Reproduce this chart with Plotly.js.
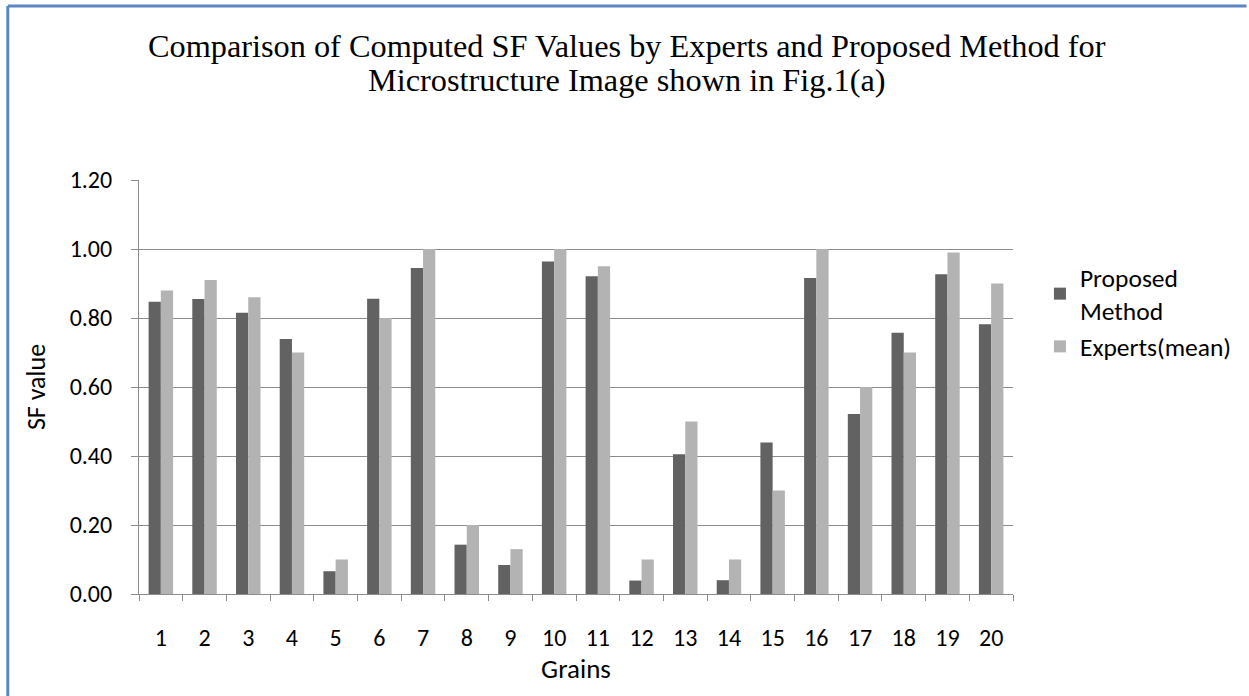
<!DOCTYPE html>
<html>
<head>
<meta charset="utf-8">
<script src="https://cdn.plot.ly/plotly-3.0.1.min.js"></script>
<style>
html,body{margin:0;padding:0;background:#fff;}
#chart{width:1249px;height:696px;}
</style>
</head>
<body>
<div id="chart"></div>
<script>
const grains = ['1','2','3','4','5','6','7','8','9','10','11','12','13','14','15','16','17','18','19','20'];
const proposedMethod = [0.847,0.855,0.815,0.739,0.066,0.856,0.945,0.143,0.084,0.964,0.921,0.039,0.405,0.040,0.439,0.916,0.522,0.757,0.927,0.782];
const expertsMean = [0.88,0.91,0.86,0.70,0.10,0.80,1.00,0.20,0.13,1.00,0.95,0.10,0.50,0.10,0.30,1.00,0.60,0.70,0.99,0.90];
const yTickVals = [0,0.2,0.4,0.6,0.8,1.0,1.2];
const titleLines = ['Comparison of Computed SF Values by Experts and Proposed Method for',
                    'Microstructure Image shown in Fig.1(a)'];

const uiFont = 'Carlito, Lato, "Open Sans", sans-serif';
const serifFont = '"Liberation Serif", "Times New Roman", serif';

const traces = [
  {type:'bar', name:'Proposed<br>Method', x:grains, y:proposedMethod,
   marker:{color:'#626262', line:{width:0}}},
  {type:'bar', name:'Experts(mean)', x:grains, y:expertsMean,
   marker:{color:'#b3b3b3', line:{width:0}}}
];

const L = 139, T = 180, R = 234, B = 102, W = 1249, H = 696;
const PW = W - L - R, PH = H - T - B;
const py = (pix) => (H - B - pix) / PH;
const px = (pix) => (pix - L) / PW;

const layout = {
  width:W, height:H,
  paper_bgcolor:'#ffffff', plot_bgcolor:'#ffffff',
  margin:{l:L, r:R, t:T, b:B},
  barmode:'group', bargap:0.44, bargroupgap:0,
  font:{family:uiFont, size:24, color:'#000'},
  annotations:[
    {text:titleLines[0], xref:'paper', yref:'paper', x:px(628), y:py(46),
     xanchor:'center', yanchor:'middle', showarrow:false,
     font:{family:serifFont, size:32.3, color:'#000'}},
    {text:titleLines[1], xref:'paper', yref:'paper', x:px(628), y:py(80),
     xanchor:'center', yanchor:'middle', showarrow:false,
     font:{family:serifFont, size:32.3, color:'#000'}}
  ],
  xaxis:{
    type:'category',
    showline:true, linecolor:'#8c8c8c', linewidth:1,
    ticks:'outside', tickson:'boundaries', ticklen:6, tickcolor:'#8c8c8c', tickwidth:1,
    ticklabelstandoff:22,
    showgrid:false, zeroline:false,
    tickfont:{family:uiFont, size:24, color:'#000'},
    title:{text:'Grains', font:{family:uiFont, size:27, color:'#000'}, standoff:8}
  },
  yaxis:{
    range:[0,1.2], tickvals:yTickVals, tickformat:'.2f',
    showline:true, linecolor:'#8c8c8c', linewidth:1,
    ticks:'outside', ticklen:7, tickcolor:'#8c8c8c', tickwidth:1,
    ticklabelstandoff:14,
    showgrid:true, gridcolor:'#8c8c8c', gridwidth:1,
    zeroline:false,
    tickfont:{family:uiFont, size:24, color:'#000'},
    title:{text:'SF value', font:{family:uiFont, size:26, color:'#000'}, standoff:16}
  },
  legend:{
    x:px(1042), xanchor:'left', y:py(254), yanchor:'top',
    font:{family:uiFont, size:25.5, color:'#000'},
    bgcolor:'rgba(0,0,0,0)', borderwidth:0,
    itemwidth:30, tracegroupgap:0
  },
  showlegend:true,
  shapes:[
    {type:'line', xref:'paper', yref:'paper',
     x0:px(7.5), x1:px(W), y0:py(6), y1:py(6),
     line:{color:'#5b86c0', width:3}},
    {type:'line', xref:'paper', yref:'paper',
     x0:px(7.5), x1:px(7.5), y0:py(6), y1:py(H),
     line:{color:'#5b86c0', width:3}}
  ]
};

Plotly.newPlot('chart', traces, layout, {displayModeBar:false, staticPlot:true});
</script>
</body>
</html>
